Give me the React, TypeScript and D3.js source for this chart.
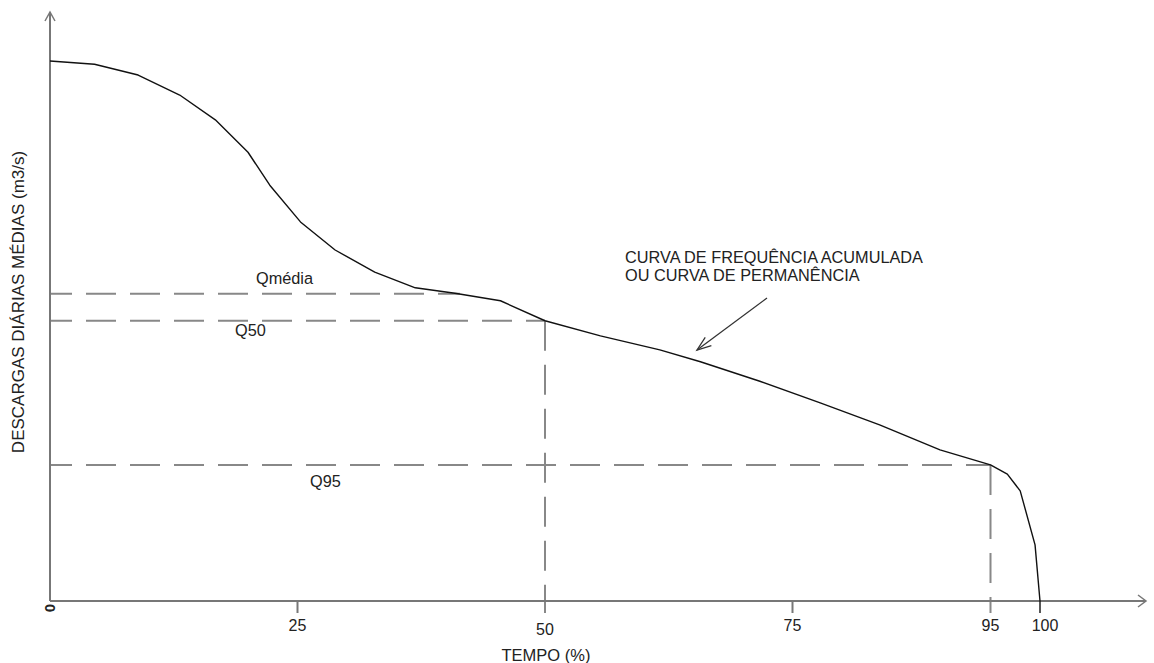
import * as d3 from 'd3';

// duration curve: time (%) vs discharge (arbitrary units)
const tempo = [0, 4.5, 8.9, 13.1, 16.7, 20.0, 22.2, 25.3, 28.8, 32.8, 36.9, 40.9, 45.5, 50, 55.6, 61.6, 65.7, 71.7, 77.8, 83.8, 89.9, 95, 96.7, 98.0, 99.5, 100];
const descarga = [100, 99.4, 97.4, 93.7, 89.1, 83.1, 77.0, 70.2, 65.0, 60.9, 58.0, 57.0, 55.6, 51.9, 49.1, 46.5, 44.3, 40.7, 36.7, 32.6, 28.0, 25.2, 23.5, 20.4, 10.4, 0];

const xTicks = [25, 50, 75, 95, 100];
const qMedia = 56.9;
const qMediaEnd = 41.4;
const q50 = 51.9;
const q95 = 25.2;

const W = 1154;
const H = 663;
const axisColor = '#777';
const dashColor = '#888';
const font = 'Liberation Sans, Arial, sans-serif';

export default function App() {
  const x = d3.scaleLinear().domain([0, 100]).range([50, 1040]);
  const y = d3.scaleLinear().domain([0, 100]).range([601, 61]);

  const pts = tempo.map((t, i) => [t, descarga[i]] as [number, number]);
  const curve = d3
    .line<[number, number]>()
    .x((d) => x(d[0]))
    .y((d) => y(d[1]))
    .curve(d3.curveLinear)(pts);

  const x0 = x(0);
  const y0 = y(0);
  const dash = { stroke: dashColor, strokeWidth: 2, strokeDasharray: '30 14', fill: 'none' };

  // arrow pointing at the curve
  const aFrom = [767, 298];
  const aTo = [697, 350];
  const ang = Math.atan2(aTo[1] - aFrom[1], aTo[0] - aFrom[0]);
  const head = (s: number) =>
    `${aTo[0] - 15 * Math.cos(ang + s)},${aTo[1] - 15 * Math.sin(ang + s)}`;

  return (
    <svg width={W} height={H} style={{ position: 'absolute', left: 0, top: 0, background: '#fff' }}>
      {/* reference lines */}
      <line x1={x0} x2={x(qMediaEnd)} y1={y(qMedia)} y2={y(qMedia)} {...dash} strokeDashoffset={8} />
      <line x1={x0} x2={x(50)} y1={y(q50)} y2={y(q50)} {...dash} strokeDashoffset={8} />
      <line x1={x0} x2={x(95)} y1={y(q95)} y2={y(q95)} {...dash} strokeDashoffset={8} />
      <line x1={x(50)} x2={x(50)} y1={y(q50)} y2={y0 + 12} {...dash} />
      <line x1={x(95)} x2={x(95)} y1={y(q95)} y2={y0 + 12} {...dash} />

      {/* axes */}
      <line x1={x0} x2={x0} y1={y0} y2={12} stroke={axisColor} strokeWidth={2} />
      <path d={`M${x0 - 5},21 L${x0},12 L${x0 + 5},21`} stroke={axisColor} strokeWidth={1.5} fill="none" />
      <line x1={x0} x2={1146} y1={y0} y2={y0} stroke={axisColor} strokeWidth={2} />
      <path d={`M1138,${y0 - 6} L1146,${y0} L1138,${y0 + 6}`} stroke={axisColor} strokeWidth={1.5} fill="none" />
      {[25, 75].map((t) => (
        <line key={t} x1={x(t)} x2={x(t)} y1={y0} y2={y0 + 12} stroke={axisColor} strokeWidth={2} />
      ))}

      {/* curve */}
      <path d={curve ?? ''} fill="none" stroke="#111" strokeWidth={1.4} strokeLinejoin="round" />
      <line x1={x(100)} x2={x(100)} y1={y0} y2={y0 + 12} stroke="#111" strokeWidth={1.4} />

      {/* tick labels */}
      <g fontFamily={font} fontSize={16} fill="#222" textAnchor="middle">
        {xTicks.map((t) => (
          <text key={t} x={x(t) + (t === 100 ? 5 : 0)} y={t === 50 ? 635 : 631}>
            {t}
          </text>
        ))}
        <text transform={`translate(${x0 + 5},608) rotate(-90)`} fontWeight="bold" fontSize={15}>
          0
        </text>
        <text x={546} y={661} fontSize={16.5}>TEMPO (%)</text>
        <text transform="translate(24,302) rotate(-90)" fontSize={17}>DESCARGAS DIÁRIAS MÉDIAS (m3/s)</text>
      </g>

      {/* annotations */}
      <g fontFamily={font} fontSize={16.3} fill="#222">
        <text x={256} y={284}>Qmédia</text>
        <text x={235} y={336}>Q50</text>
        <text x={310} y={487}>Q95</text>
        <text x={625} y={263}>CURVA DE FREQUÊNCIA ACUMULADA</text>
        <text x={625} y={281}>OU CURVA DE PERMANÊNCIA</text>
      </g>
      <line x1={aFrom[0]} y1={aFrom[1]} x2={aTo[0]} y2={aTo[1]} stroke="#333" strokeWidth={1.3} />
      <path d={`M${head(0.35)} L${aTo[0]},${aTo[1]} L${head(-0.35)}`} stroke="#333" strokeWidth={1.3} fill="none" />
    </svg>
  );
}
